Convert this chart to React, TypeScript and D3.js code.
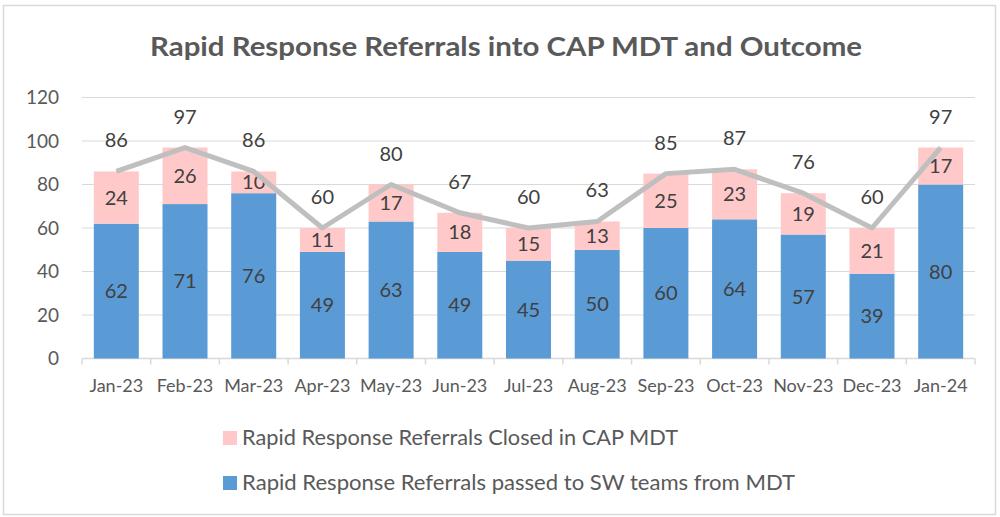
import React from 'react';
import * as d3 from 'd3';

const months = ['Jan-23', 'Feb-23', 'Mar-23', 'Apr-23', 'May-23', 'Jun-23', 'Jul-23', 'Aug-23', 'Sep-23', 'Oct-23', 'Nov-23', 'Dec-23', 'Jan-24'];
const passedToSW = [62, 71, 76, 49, 63, 49, 45, 50, 60, 64, 57, 39, 80];
const closedInMDT = [24, 26, 10, 11, 17, 18, 15, 13, 25, 23, 19, 21, 17];
const totals = [86, 97, 86, 60, 80, 67, 60, 63, 85, 87, 76, 60, 97];
const yTicks = [0, 20, 40, 60, 80, 100, 120];

const W = 1000;
const H = 517;
const margin = { left: 82, right: 25, top: 97.5, bottom: 158.5 };
const font = 'Lato, "Open Sans", sans-serif';
const textColor = '#404040';

const App = () => {
  const x = d3.scaleBand()
    .domain(months)
    .range([margin.left, W - margin.right])
    .paddingInner(0.345)
    .paddingOuter(0.172);
  const y = d3.scaleLinear().domain([0, 120]).range([H - margin.bottom, margin.top]);

  const line = d3.line<number>()
    .x((d, i) => x(months[i])! + x.bandwidth() / 2)
    .y((d) => y(d));

  const step = (W - margin.right - margin.left) / months.length;

  return (
    <svg width={W} height={H} style={{ position: 'absolute', left: 0, top: 0 }}>
      <rect x={0} y={0} width={W} height={H} fill="#fff" />
      <rect x={3.5} y={5.5} width={992} height={509} fill="none" stroke="#d9d9d9" strokeWidth={1.5} />
      <text x={150} y={56} textLength={712} lengthAdjust="spacingAndGlyphs" fontFamily={font} fontWeight="bold" fontSize={27} fill="#595959">
        Rapid Response Referrals into CAP MDT and Outcome
      </text>

      {yTicks.map((t) => (
        <g key={t}>
          {t > 0 && (
            <line x1={margin.left} x2={W - margin.right} y1={y(t)} y2={y(t)} stroke="#d9d9d9" strokeWidth={1} />
          )}
          <text x={59} y={y(t)} dy="0.35em" textAnchor="end" fontFamily={font} fontSize={19} fill="#595959">{t}</text>
        </g>
      ))}

      <line x1={margin.left} x2={W - margin.right} y1={y(0)} y2={y(0)} stroke="#d9d9d9" strokeWidth={1.5} />
      {d3.range(months.length + 1).map((i) => (
        <line key={i} x1={margin.left + i * step} x2={margin.left + i * step} y1={y(0)} y2={y(0) + 6} stroke="#d9d9d9" strokeWidth={1.5} />
      ))}
      {months.map((m) => (
        <text key={m} x={x(m)! + x.bandwidth() / 2} y={392} textAnchor="middle" fontFamily={font} fontSize={18} fill="#595959">{m}</text>
      ))}

      {months.map((m, i) => (
        <g key={m}>
          <rect x={x(m)} y={y(passedToSW[i])} width={x.bandwidth()} height={y(0) - y(passedToSW[i])} fill="#5b9bd5" />
          <rect x={x(m)} y={y(passedToSW[i] + closedInMDT[i])} width={x.bandwidth()} height={y(0) - y(closedInMDT[i])} fill="#ffc9c9" />
          <text x={x(m)! + x.bandwidth() / 2} y={y(passedToSW[i] / 2)} dy="0.35em" textAnchor="middle" fontFamily={font} fontSize={20} fill={textColor}>{passedToSW[i]}</text>
          <text x={x(m)! + x.bandwidth() / 2} y={y(passedToSW[i] + closedInMDT[i] / 2)} dy="0.35em" textAnchor="middle" fontFamily={font} fontSize={20} fill={textColor}>{closedInMDT[i]}</text>
        </g>
      ))}

      <path d={line(totals) ?? ''} fill="none" stroke="#bfbfbf" strokeWidth={5} strokeLinejoin="round" />
      {months.map((m, i) => (
        <text key={m} x={x(m)! + x.bandwidth() / 2} y={y(totals[i]) - 31} dy="0.35em" textAnchor="middle" fontFamily={font} fontSize={20} fill={textColor}>{totals[i]}</text>
      ))}

      <rect x={223} y={431} width={14} height={14} fill="#ffc9c9" />
      <text x={242} y={438} dy="0.35em" textLength={436} lengthAdjust="spacingAndGlyphs" fontFamily={font} fontSize={21} fill="#595959">Rapid Response Referrals Closed in CAP MDT</text>
      <rect x={223} y={476} width={14} height={14} fill="#5b9bd5" />
      <text x={242} y={483} dy="0.35em" textLength={553} lengthAdjust="spacingAndGlyphs" fontFamily={font} fontSize={21} fill="#595959">Rapid Response Referrals passed to SW teams from MDT</text>
    </svg>
  );
};

export default App;
